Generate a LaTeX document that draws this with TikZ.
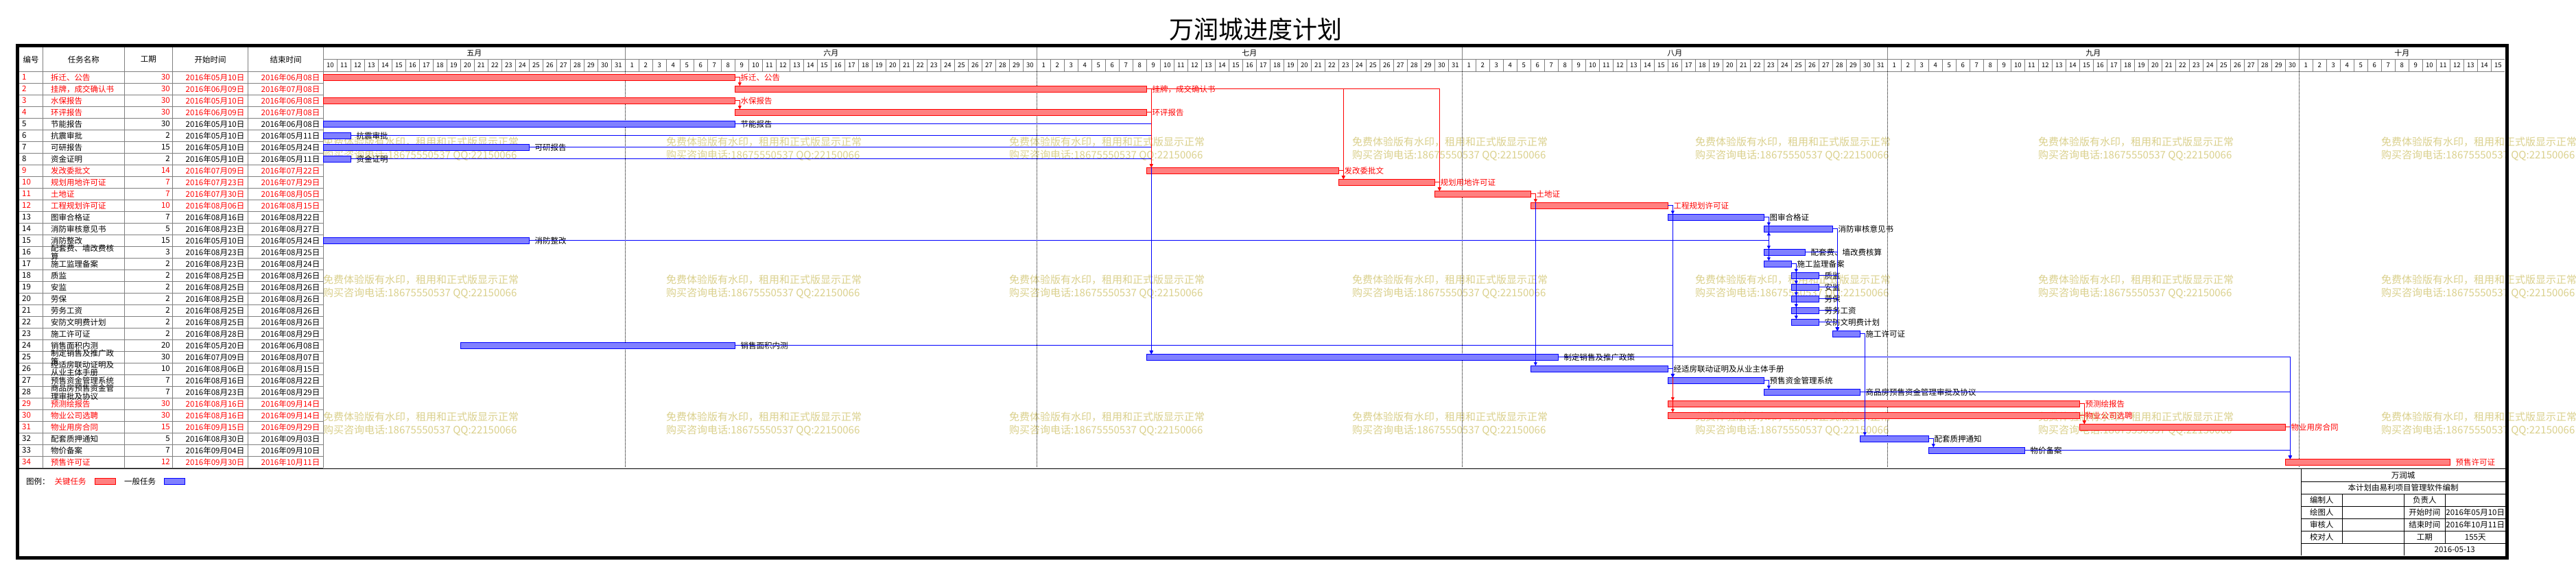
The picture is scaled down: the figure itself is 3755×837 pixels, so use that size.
\documentclass[tikz,border=0pt]{standalone}
\usepackage{fontspec}
\setmainfont{Noto Sans CJK SC}
\usetikzlibrary{positioning,arrows.meta}
\definecolor{wmcol}{RGB}{218,208,140}
\colorlet{txtr}{red}
\colorlet{txtk}{black}
\newcommand\tbrk{}
\begin{document}
\begin{tikzpicture}[x=1pt,y=-1pt,
        tab/.style={font=\fontsize{11.5}{10.5}\selectfont,inner sep=0pt},
        gline/.style={draw=gray,line width=0.9pt},
        bline/.style={draw=black,line width=0.9pt},
        barr/.style={draw=red,fill=red!50,line width=0.9pt,minimum height=9pt,
            inner sep=0pt,outer sep=0pt,anchor=west},
        bark/.style={draw=blue,fill=blue!50,line width=0.9pt,minimum height=9pt,
            inner sep=0pt,outer sep=0pt,anchor=west},
        critl/.style={red,line width=0.9pt,-{Triangle[length=5pt,width=5pt]}},
        genl/.style={blue,line width=0.9pt,-{Triangle[length=5pt,width=5pt]}},
        wm/.style={text=wmcol,font=\fontsize{15}{19}\selectfont,inner sep=0pt,
            align=left,anchor=west}]
    \useasboundingbox (0,0) rectangle (3755,837);

    \node[font=\fontsize{36}{36}\selectfont,inner sep=0pt] (title) at (1830.5,43) {万润城进度计划};

    % watermarks
    \foreach \wx in {471,971,...,3471}
        \foreach \wy in {217,418,618}
            \node[wm] (w\wx-\wy) at (\wx,\wy) {免费体验版有水印，租用和正式版显示正常\\购买咨询电话:18675550537 QQ:22150066};

    % table grid
    \foreach \x in {62.5,181.3,251.3,361.6,471.3}
        \draw[gline] (\x,69) -- (\x,682.3);
    \foreach \r in {1,...,34}
        \draw[gline] (28,{104.3+17*\r}) -- (471.3,{104.3+17*\r});
    \draw[gline] (471.3,86.7) -- (3651.3,86.7);
    \draw[gline] (28,104.3) -- (3651.3,104.3);
    \foreach \k in {1,...,158}
        \draw[gline] ({471.3+20*\k},86.7) -- ({471.3+20*\k},104.3);
    \foreach \k in {22,52,83,114,144} {
        \draw[gline] ({471.3+20*\k},69) -- ({471.3+20*\k},104.3);
        \draw[line width=0.8pt,dash pattern=on 1pt off 1pt] ({471.3+20*\k},104.3) -- ({471.3+20*\k},682.3);
    }

    % header
    \node[tab] (hno) at (45.2,86.7) {编号};
    \node[tab] (hname) at (121.9,86.7) {任务名称};
    \node[tab] (hdur) at (216.3,86.7) {工期};
    \node[tab] (hstart) at (306.5,86.7) {开始时间};
    \node[tab] (hend) at (416.5,86.7) {结束时间};
    \foreach \mon/\sh/\fst/\lst in {五月/-10/10/31,六月/21/1/30,七月/51/1/31,八月/82/1/31,九月/113/1/30,十月/143/1/15} {
        \node[tab,font=\fontsize{11}{11}\selectfont] (mon\sh) at ({471.3+10*(2*\sh+\fst+\lst+1)},77.8) {\mon};
        \foreach \d in {\fst,...,\lst}
            \node[tab,font=\fontsize{9.5}{9.5}\selectfont] (day\sh-\d) at ({471.3+20*(\sh+\d)+10},95.5) {\d};
    }

    % tasks: number/name/duration/start/end/first day/day after end/colour
    \foreach \i/\nm/\du/\st/\en/\s/\e/\c in {
        1/拆迁、公告/30/05月10日/06月08日/0/30/r,
        2/挂牌，成交确认书/30/06月09日/07月08日/30/60/r,
        3/水保报告/30/05月10日/06月08日/0/30/r,
        4/环评报告/30/06月09日/07月08日/30/60/r,
        5/节能报告/30/05月10日/06月08日/0/30/k,
        6/抗震审批/2/05月10日/05月11日/0/2/k,
        7/可研报告/15/05月10日/05月24日/0/15/k,
        8/资金证明/2/05月10日/05月11日/0/2/k,
        9/发改委批文/14/07月09日/07月22日/60/74/r,
        10/规划用地许可证/7/07月23日/07月29日/74/81/r,
        11/土地证/7/07月30日/08月05日/81/88/r,
        12/工程规划许可证/10/08月06日/08月15日/88/98/r,
        13/图审合格证/7/08月16日/08月22日/98/105/k,
        14/消防审核意见书/5/08月23日/08月27日/105/110/k,
        15/消防整改/15/05月10日/05月24日/0/15/k,
        16/配套费、墙改费核\tbrk 算/3/08月23日/08月25日/105/108/k,
        17/施工监理备案/2/08月23日/08月24日/105/107/k,
        18/质监/2/08月25日/08月26日/107/109/k,
        19/安监/2/08月25日/08月26日/107/109/k,
        20/劳保/2/08月25日/08月26日/107/109/k,
        21/劳务工资/2/08月25日/08月26日/107/109/k,
        22/安防文明费计划/2/08月25日/08月26日/107/109/k,
        23/施工许可证/2/08月28日/08月29日/110/112/k,
        24/销售面积内测/20/05月20日/06月08日/10/30/k,
        25/制定销售及推广政\tbrk 策/30/07月09日/08月07日/60/90/k,
        26/经适房联动证明及\tbrk 从业主体手册/10/08月06日/08月15日/88/98/k,
        27/预售资金管理系统/7/08月16日/08月22日/98/105/k,
        28/商品房预售资金管\tbrk 理审批及协议/7/08月23日/08月29日/105/112/k,
        29/预测绘报告/30/08月16日/09月14日/98/128/r,
        30/物业公司选聘/30/08月16日/09月14日/98/128/r,
        31/物业用房合同/15/09月15日/09月29日/128/143/r,
        32/配套质押通知/5/08月30日/09月03日/112/117/k,
        33/物价备案/7/09月04日/09月10日/117/124/k,
        34/预售许可证/12/09月30日/10月11日/143/155/r} {
        \pgfmathsetmacro\ym{112.8+17*(\i-1)}
        \node[tab,text=txt\c,anchor=west] (n\i) at (32,\ym) {\i};
        \node[tab,text=txt\c,anchor=west,align=left] (m\i) at (74,\ym) {\def\tbrk{\\}\nm};
        \node[tab,text=txt\c,anchor=east] (d\i) at (248,\ym) {\du};
        \node[tab,text=txt\c,anchor=east] (s\i) at (356.5,\ym) {2016年\st};
        \node[tab,text=txt\c,anchor=east] (f\i) at (466.5,\ym) {2016年\en};
        \node[bar\c,minimum width={20*(\e-\s)}] (b\i) at ({471.3+20*\s},\ym) {};
        \node[tab,text=txt\c,right=8pt of b\i] (l\i) {\nm};
        \coordinate (t\i) at ([xshift=7pt]b\i.north west);
        \coordinate (u\i) at ([xshift=7pt]b\i.south west);
    }

    % links, lower layer
    \draw[critl] (b12.east) -| (t29);
    \draw[critl] (b12.east) -| (t30);
    \draw[critl] (b31.east) -| (t34);
    \foreach \j in {5,6,7,8}
        \draw[genl] (b\j.east) -| (t25);
    \draw[genl] (b11.east) -| (t26);
    \draw[genl] (b12.east) -| (t13);
    \draw[genl] (b12.east) -| (t27);
    \draw[genl] (b24.east) -| (t27);
    \draw[genl] (b26.east) -| (t27);
    \draw[genl] (b15.east) -| (u14);
    \foreach \j in {14,16,17}
        \draw[genl] (b13.east) -| (t\j);
    \foreach \j in {18,...,22}
        \draw[genl] (b17.east) -| (t\j);
    \foreach \j in {14,16,18,19,20,21,22}
        \draw[genl] (b\j.east) -| (t23);
    \draw[genl] (b23.east) -| (t32);
    \draw[genl] (b32.east) -| (t33);
    \draw[genl] (b27.east) -| (t28);
    \foreach \j in {25,28,33}
        \draw[genl] (b\j.east) -| (t34);
    % critical links on top
    \draw[critl] (b1.east) -| (t2);
    \draw[critl] (b3.east) -| (t4);
    \draw[critl] (b2.east) -| (t9);
    \draw[critl] (b4.east) -| (t9);
    \draw[critl] (b2.east) -| (t10);
    \draw[critl] (b2.east) -| (t11);
    \draw[critl] (b9.east) -| (t10);
    \draw[critl] (b10.east) -| (t11);
    \draw[critl] (b11.east) -| (t12);
    \draw[critl] (b29.east) -| (t31);
    \draw[critl] (b30.east) -| (t31);

    % legend
    \draw[line width=1.2pt] (28,683.3) -- (3652,683.3);
    \node[tab,anchor=west] (lg) at (38,702) {图例：};
    \node[tab,text=red,anchor=west] (lgc) at (79.5,702) {关键任务};
    \node[barr,minimum width=30pt,right=13pt of lgc] (lgcb) {};
    \node[tab,right=12pt of lgcb] (lgg) {一般任务};
    \node[bark,minimum width=30pt,right=12pt of lgg] (lggb) {};

    % title block
    \draw[bline] (3354.3,683.7) -- (3354.3,810.3);
    \foreach \yy in {702.7,720.3,738.3,756.3,774.3,792.3}
        \draw[bline] (3354.3,\yy) -- (3652,\yy);
    \draw[bline] (3414.3,720.3) -- (3414.3,792.3);
    \draw[bline] (3504.3,720.3) -- (3504.3,810.3);
    \draw[bline] (3564.3,720.3) -- (3564.3,792.3);
    \node[tab] (tbname) at (3503.2,693.2) {万润城};
    \node[tab] (tbsoft) at (3503.2,711.5) {本计划由易利项目管理软件编制};
    \foreach \k/\yy/\a/\b/\v in {1/729.3/编制人/负责人/,2/747.3/绘图人/开始时间/2016年05月10日,
            3/765.3/审核人/结束时间/2016年10月11日,4/783.3/校对人/工期/155天} {
        \node[tab] (tba\k) at (3384.3,\yy) {\a};
        \node[tab] (tbb\k) at (3534.3,\yy) {\b};
        \node[tab] (tbc\k) at (3608.2,\yy) {\v};
    }
    \node[tab] (tbdate) at (3578.2,801.3) {2016-05-13};

    % frame
    \draw[line width=4.7pt] (25.6,66.7) rectangle (3654.3,813.2);
\end{tikzpicture}
\end{document}
